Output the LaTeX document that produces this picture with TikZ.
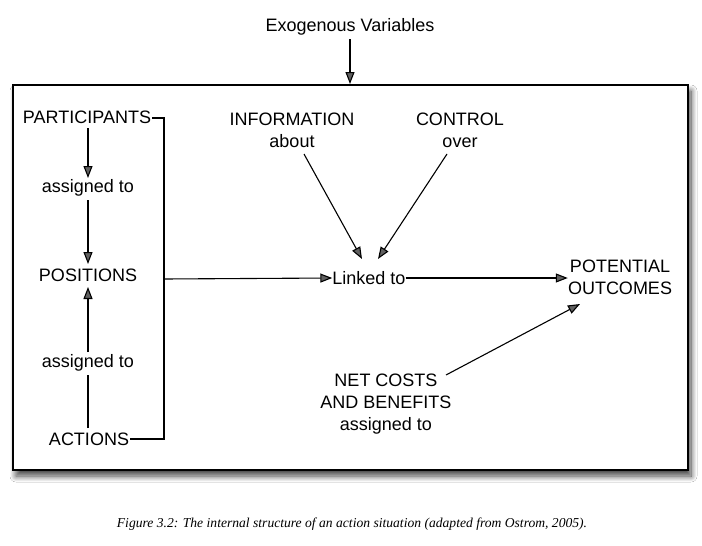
\documentclass[tikz,border=0pt]{standalone}
\usepackage{fontspec}
\setmainfont{Liberation Sans}
\newfontfamily\capfont{Liberation Serif}
\usetikzlibrary{arrows.meta,shadows.blur}
\begin{document}
\begin{tikzpicture}[x=1pt,y=-1pt,
  lbl/.style={inner sep=0pt,font=\fontsize{18}{22}\selectfont,align=center},
  arr/.style={line width=1.1pt,-{Triangle[length=12pt,width=9pt]}},
  ln/.style={line width=1.1pt}]
\useasboundingbox (0,0) rectangle (702,546);
\fill[white] (0,0) rectangle (702,546);
% main frame
\draw[line width=1.6pt,fill=white,blur shadow={shadow xshift=3pt,shadow yshift=-6pt,shadow blur radius=6pt,shadow blur steps=12,shadow opacity=75}] (13,85) rectangle (688,470);
\coordinate (boxtop) at (350,84);
\node[lbl] (exo) at (350,27) {Exogenous Variables};
\draw[arr] (exo.south |- 0,39) -- (boxtop);
% left column
\node[lbl] (part) at (87,117) {PARTICIPANTS};
\node[lbl] (as1) at (88,188) {assigned to};
\node[lbl] (pos) at (88,275) {POSITIONS};
\node[lbl] (as2) at (88,363) {assigned to};
\node[lbl] (act) at (89,439) {ACTIONS};
\draw[arr] (88,128) -- (88,178);
\draw[arr] (88,200) -- (88,264);
\draw[arr] (88,352) -- (88,287);
\draw[ln] (88,428) -- (88,375);
% bracket
\coordinate (bt) at (164,118);
\coordinate (bb) at (164,439);
\coordinate (bm) at (164,279);
\draw[ln] (part.east) ++(1,1) -- (bt) -- (bb) -- ([xshift=1pt]act.east |- bb);
% centre
\node[lbl] (link) at (369,278) {Linked to};
\node[lbl] (pot) at (620,277) {POTENTIAL\\OUTCOMES};
\node[lbl] (info) at (292,130) {INFORMATION\\about};
\node[lbl] (ctrl) at (460,130) {CONTROL\\over};
\node[lbl] (net) at (386,404) {NET COSTS\\AND BENEFITS\\assigned to};
\draw[arr] (bm) -- (link.west);
\draw[arr] (link.east) -- (pot.west |- link.east);
\draw[arr] (304,154) -- (362,259);
\draw[arr] (447,154) -- (378,259);
\draw[arr] (446,375) -- (580,304);
% caption
\node[inner sep=0pt,font=\capfont\itshape\fontsize{13.6}{16}\selectfont] (cap) at (352,524) {Figure 3.2: The internal structure of an action situation (adapted from Ostrom, 2005).};
\end{tikzpicture}
\end{document}
